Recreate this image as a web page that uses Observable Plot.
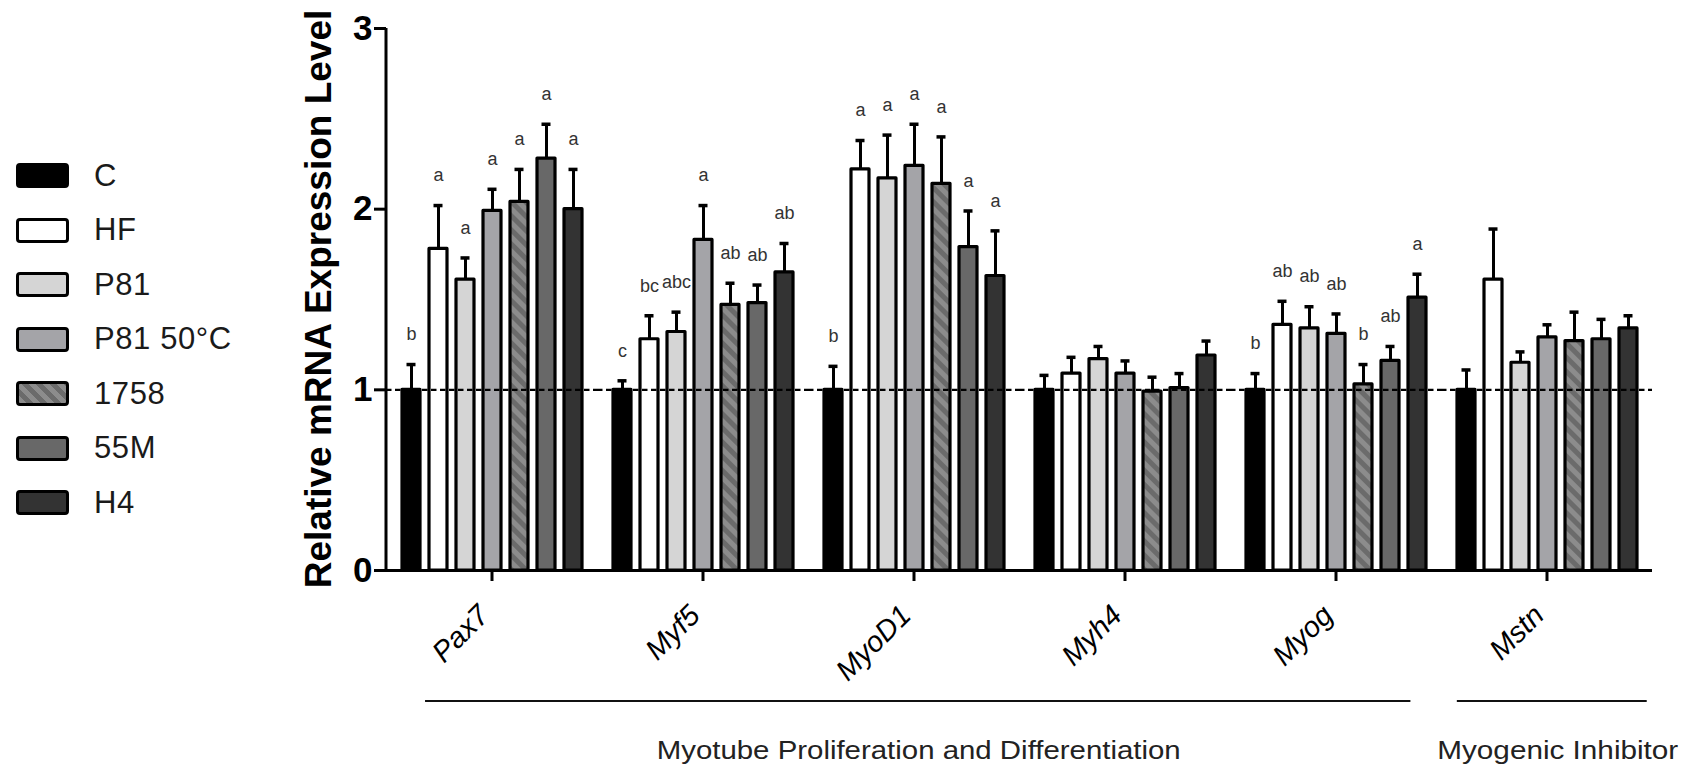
<!DOCTYPE html>
<html>
<head>
<meta charset="utf-8">
<script src="https://cdn.jsdelivr.net/npm/d3@7"></script>
<script src="https://cdn.jsdelivr.net/npm/@observablehq/plot@0.6"></script>
<style>
  html, body { margin: 0; padding: 0; background: #fff; overflow: hidden; }
  #wrap { position: relative; width: 1687px; height: 768px; font-family: "Liberation Sans", Arial, sans-serif; }
  #wrap svg { position: absolute; left: 0; top: 0; }
  .legend { position: absolute; left: 16px; top: 0; }
  .row { position: absolute; left: 0; display: flex; align-items: center; height: 25px; white-space: nowrap; }
  .sw { box-sizing: border-box; width: 53px; height: 25px; border: 3.5px solid #000; border-radius: 4px; }
  .lab { margin-left: 25px; font-size: 31px; letter-spacing: 0.6px; color: #1a1a1a; }
</style>
</head>
<body>
<div id="wrap"></div>
<script>
// Genes (x groups) and treatment groups (bars within each gene)
const genes = ["Pax7", "Myf5", "MyoD1", "Myh4", "Myog", "Mstn"];
const groups = ["C", "HF", "P81", "P81 50°C", "1758", "55M", "H4"];

// Mean relative mRNA expression, one array per gene (order follows `groups`)
const pax7  = [1.00, 1.78, 1.61, 1.99, 2.04, 2.28, 2.00];
const myf5  = [1.00, 1.28, 1.32, 1.83, 1.47, 1.48, 1.65];
const myod1 = [1.00, 2.22, 2.17, 2.24, 2.14, 1.79, 1.63];
const myh4  = [1.00, 1.09, 1.17, 1.09, 0.99, 1.01, 1.19];
const myog  = [1.00, 1.36, 1.34, 1.31, 1.03, 1.16, 1.51];
const mstn  = [1.00, 1.61, 1.15, 1.29, 1.27, 1.28, 1.34];

// Standard errors (upper error bars)
const pax7Err  = [0.14, 0.24, 0.12, 0.12, 0.18, 0.19, 0.22];
const myf5Err  = [0.05, 0.13, 0.11, 0.19, 0.12, 0.10, 0.16];
const myod1Err = [0.13, 0.16, 0.24, 0.23, 0.26, 0.20, 0.25];
const myh4Err  = [0.08, 0.09, 0.07, 0.07, 0.08, 0.08, 0.08];
const myogErr  = [0.09, 0.13, 0.12, 0.11, 0.11, 0.08, 0.13];
const mstnErr  = [0.11, 0.28, 0.06, 0.07, 0.16, 0.11, 0.07];

// Significance letters (empty where none is reported)
const pax7Sig  = ["b", "a", "a", "a", "a", "a", "a"];
const myf5Sig  = ["c", "bc", "abc", "a", "ab", "ab", "ab"];
const myod1Sig = ["b", "a", "a", "a", "a", "a", "a"];
const myh4Sig  = ["", "", "", "", "", "", ""];
const myogSig  = ["b", "ab", "ab", "ab", "b", "ab", "a"];
const mstnSig  = ["", "", "", "", "", "", ""];

// Gene categories shown under the axis
const categoryNames = ["Myotube Proliferation and Differentiation", "Myogenic Inhibitor"];
const categoryGenes = [["Pax7", "Myog"], ["Mstn", "Mstn"]];

// Bar fills per treatment group
const fills = ["#000000", "#ffffff", "#d5d5d5", "#a4a4a8", "url(#hatch1758)", "#686868", "#333333"];

const means = [pax7, myf5, myod1, myh4, myog, mstn];
const errs = [pax7Err, myf5Err, myod1Err, myh4Err, myogErr, mstnErr];
const sigs = [pax7Sig, myf5Sig, myod1Sig, myh4Sig, myogSig, mstnSig];

const rows = genes.flatMap((gene, gi) =>
  groups.map((group, si) => ({
    gene,
    group,
    value: means[gi][si],
    top: means[gi][si] + errs[gi][si],
    sig: sigs[gi][si]
  }))
);

const FONT = "'Liberation Sans', Arial, Helvetica, sans-serif";

const chart = Plot.plot({
  width: 1687,
  height: 768,
  marginLeft: 384,
  marginRight: 33,
  marginTop: 28,
  marginBottom: 198,
  style: { fontFamily: FONT, background: "transparent", color: "#000" },
  fx: { domain: genes, padding: 0, label: null },
  x: { domain: groups, paddingInner: 0.35, paddingOuter: 0.5, axis: null },
  y: { domain: [0, 3], label: null },
  color: { domain: groups, range: fills },
  marks: [
    Plot.barY(rows, {
      fx: "gene", x: "group", y: "value", fill: "group",
      stroke: "#000", strokeWidth: 3.2, strokeLinejoin: "round"
    }),
    Plot.ruleY([1], { stroke: "#000", strokeWidth: 2.4, strokeDasharray: "5.5,3.5" }),
    Plot.ruleX(rows, { fx: "gene", x: "group", y1: "value", y2: "top", stroke: "#000", strokeWidth: 3 }),
    Plot.tickY(rows, { fx: "gene", x: "group", y: "top", stroke: "#000", strokeWidth: 3.5, insetLeft: 4.5, insetRight: 4.5 }),
    Plot.text(rows.filter((d) => d.sig), {
      fx: "gene", x: "group", y: "top", text: "sig",
      dy: -30, fontSize: 18, fill: "#333"
    }),
    Plot.ruleY([0], { stroke: "#000", strokeWidth: 3 }),
    Plot.axisY({
      ticks: [0, 1, 2, 3], tickFormat: "d", tickSize: 12, tickPadding: 2,
      strokeWidth: 3, fontSize: 35, fontWeight: "bold", label: null
    }),
    // Gene ticks under each group (names are drawn slanted below)
    Plot.axisFx({
      anchor: "bottom", tickSize: 11, strokeWidth: 3,
      tickFormat: () => "", label: null
    })
  ]
});

document.getElementById("wrap").appendChild(chart);

// Scales used for the annotations drawn on top of the chart
const fx = chart.scale("fx");
const y = chart.scale("y");
const bw = fx.bandwidth;
const svg = d3.select(chart);

// Diagonal stripes for the 1758 group
const pat = svg.insert("defs", ":first-child")
  .append("pattern")
  .attr("id", "hatch1758")
  .attr("patternUnits", "userSpaceOnUse")
  .attr("width", 10).attr("height", 10)
  .attr("patternTransform", "rotate(45)");
pat.append("rect").attr("width", 10).attr("height", 10).attr("fill", "#8c8c8c");
pat.append("rect").attr("width", 10).attr("height", 5).attr("fill", "#6b6b6b");

// Y axis spine
const x0 = fx.apply(genes[0]);
const y0 = y.apply(0);
svg.append("line")
  .attr("x1", x0).attr("x2", x0)
  .attr("y1", y0 + 1.5).attr("y2", y.apply(3))
  .attr("stroke", "#000").attr("stroke-width", 3);

// Slanted italic gene names under the ticks
genes.forEach((g) => {
  const cx = fx.apply(g) + bw / 2;
  svg.append("text")
    .attr("transform", `translate(${cx - 8},${y0 + 40}) rotate(-45)`)
    .attr("text-anchor", "end")
    .attr("dy", "0.35em")
    .attr("font-family", FONT)
    .attr("font-style", "italic")
    .attr("font-size", 29)
    .attr("fill", "#000")
    .text(g);
});

// Y axis title
svg.append("text")
  .attr("transform", `translate(331,${(y0 + y.apply(3)) / 2}) rotate(-90)`)
  .attr("text-anchor", "middle")
  .attr("font-family", FONT)
  .attr("font-weight", "bold")
  .attr("font-size", 37)
  .attr("fill", "#000")
  .text("Relative mRNA Expression Level");

// Category brackets and names under the gene labels
const bracketY = 701;
const bracketSpans = [[0.185, 0.855], [0.075, 0.975]];
const nameWidths = [524, 241];
categoryNames.forEach((name, i) => {
  const [g1, g2] = categoryGenes[i];
  const xa = fx.apply(g1) + bracketSpans[i][0] * bw;
  const xb = fx.apply(g2) + bracketSpans[i][1] * bw;
  svg.append("line")
    .attr("x1", xa).attr("x2", xb)
    .attr("y1", bracketY).attr("y2", bracketY)
    .attr("stroke", "#111").attr("stroke-width", 2);
  svg.append("text")
    .attr("x", (xa + xb) / 2 + (i === 1 ? 6 : 1))
    .attr("y", 759)
    .attr("text-anchor", "middle")
    .attr("font-family", FONT)
    .attr("font-size", 25)
    .attr("fill", "#222")
    .attr("textLength", nameWidths[i])
    .attr("lengthAdjust", "spacingAndGlyphs")
    .text(name);
});

// Legend
const legend = document.createElement("div");
legend.className = "legend";
groups.forEach((g, i) => {
  const row = document.createElement("div");
  row.className = "row";
  row.style.top = (163 + i * 54.5) + "px";
  const sw = document.createElement("div");
  sw.className = "sw";
  sw.style.background = g === "1758"
    ? "repeating-linear-gradient(45deg, #8c8c8c 0 5px, #6b6b6b 5px 10px)"
    : fills[i];
  const lab = document.createElement("span");
  lab.className = "lab";
  lab.textContent = g;
  row.appendChild(sw);
  row.appendChild(lab);
  legend.appendChild(row);
});
document.getElementById("wrap").appendChild(legend);
</script>
</body>
</html>
